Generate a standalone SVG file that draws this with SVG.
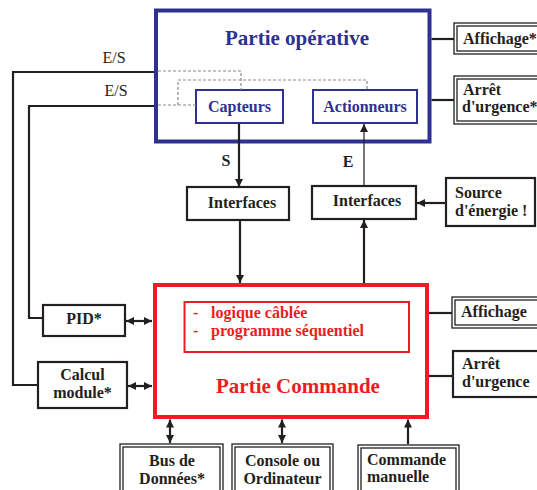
<svg xmlns="http://www.w3.org/2000/svg" width="537" height="490" viewBox="0 0 537 490">
<defs>
<style>
.t{font-family:"Liberation Serif","Times New Roman",serif;font-weight:bold;font-size:16px;fill:#231F20}
.tc{text-anchor:middle}
.reg{font-weight:normal;font-size:16px}
.blue{fill:#2E3192}
.red{fill:#ED1C24}
.box{fill:#fff;stroke:#231F20;stroke-width:2.2}
.dbo{fill:#fff;stroke:#231F20;stroke-width:1.3}
.dbi{fill:none;stroke:#231F20;stroke-width:1.3}
.ln{fill:none;stroke:#231F20;stroke-width:2.2}
.thin{fill:none;stroke:#231F20;stroke-width:1.2}
.dash{fill:none;stroke:#8a8a8a;stroke-width:1.2;stroke-dasharray:3 2}
</style>
<marker id="ah" viewBox="0 0 10 10" refX="10" refY="5" markerWidth="9" markerHeight="8" markerUnits="userSpaceOnUse" orient="auto-start-reverse">
<path d="M0,0 L10,5 L0,10 z" fill="#231F20"/>
</marker>
</defs>

<g id="partie-operative">
<rect x="156" y="10.5" width="273.5" height="131" fill="#fff" stroke="#2E3192" stroke-width="4"/>
<text class="t blue tc" x="297" y="45" style="font-size:21px">Partie opérative</text>
</g>
<g id="capteurs">
<rect x="196" y="90" width="87" height="33" fill="#fff" stroke="#2E3192" stroke-width="2"/>
<text class="t blue tc" x="239.5" y="111.5">Capteurs</text>
</g>
<g id="actionneurs">
<rect x="313" y="90" width="104" height="33" fill="#fff" stroke="#2E3192" stroke-width="2"/>
<text class="t blue tc" x="365" y="111.5">Actionneurs</text>
</g>

<g id="affichage-po">
<rect class="dbo" x="454" y="23" width="90" height="31"/>
<rect class="dbi" x="457" y="26" width="84" height="25"/>
<text class="t" x="463" y="44">Affichage*</text>
</g>
<g id="arret-po">
<rect class="dbo" x="454" y="76" width="90" height="48"/>
<rect class="dbi" x="457" y="79" width="84" height="42"/>
<text class="t" x="463" y="95">Arrêt</text>
<text class="t" x="462" y="112">d'urgence*</text>
</g>

<g id="interfaces-s">
<rect class="box" x="187" y="187" width="102" height="33"/>
<text class="t tc" x="242" y="208">Interfaces</text>
</g>
<g id="interfaces-e">
<rect class="box" x="312" y="186" width="104" height="33"/>
<text class="t tc" x="367" y="206">Interfaces</text>
</g>
<g id="source-energie">
<rect class="box" x="446" y="178" width="89" height="48"/>
<text class="t" x="455" y="198">Source</text>
<text class="t" x="455" y="216">d'énergie !</text>
</g>

<g id="partie-commande">
<rect x="155" y="285" width="272" height="132" fill="#fff" stroke="#ED1C24" stroke-width="4"/>
<rect x="184.5" y="302" width="224.5" height="50" fill="none" stroke="#ED1C24" stroke-width="2"/>
<text class="t red" x="193" y="318">-</text>
<text class="t red" x="211" y="318">logique câblée</text>
<text class="t red" x="193" y="336">-</text>
<text class="t red" x="211" y="336">programme séquentiel</text>
<text class="t red tc" x="298" y="393" style="font-size:21px">Partie Commande</text>
</g>

<g id="pid">
<rect class="box" x="43" y="305" width="82" height="31"/>
<text class="t tc" x="84" y="324">PID*</text>
</g>
<g id="calcul-module">
<rect class="box" x="38" y="362" width="89" height="46"/>
<text class="t tc" x="82.5" y="380">Calcul</text>
<text class="t tc" x="82.5" y="398">module*</text>
</g>

<g id="affichage-pc">
<rect class="dbo" x="452" y="297" width="92" height="31"/>
<rect class="dbi" x="455" y="300" width="86" height="25"/>
<text class="t" x="461" y="317">Affichage</text>
</g>
<g id="arret-pc">
<rect class="box" x="453" y="351" width="91" height="46"/>
<text class="t" x="462" y="369">Arrêt</text>
<text class="t" x="462" y="387">d'urgence</text>
</g>

<g id="bus-donnees">
<rect class="dbo" x="120" y="444" width="103" height="52"/>
<rect class="dbi" x="123" y="447" width="97" height="52"/>
<text class="t tc" x="172" y="466">Bus de</text>
<text class="t tc" x="172" y="484">Données*</text>
</g>
<g id="console">
<rect class="dbo" x="232" y="444" width="101" height="52"/>
<rect class="dbi" x="235" y="447" width="95" height="52"/>
<text class="t tc" x="282.5" y="466">Console ou</text>
<text class="t tc" x="282.5" y="484">Ordinateur</text>
</g>
<g id="commande-manuelle">
<rect class="dbo" x="358" y="445" width="101" height="52"/>
<rect class="dbi" x="361" y="448" width="95" height="52"/>
<text class="t" x="367" y="465">Commande</text>
<text class="t" x="367" y="482">manuelle</text>
</g>

<g id="connectors">
<path class="ln" d="M154,72 H13 V385 H38"/>
<path class="ln" d="M154,106 H29 V318 H43"/>
<path class="dash" d="M158,71 H241 V90"/>
<path class="dash" d="M158,105 H196"/>
<path class="dash" d="M178,105 V80 H367 V90"/>
<path class="ln" d="M239,124 V187" marker-end="url(#ah)"/>
<path class="ln" d="M240,221 V283" marker-end="url(#ah)"/>
<path class="thin" d="M364,185 V124" marker-end="url(#ah)"/>
<path class="ln" d="M364,283 V220" marker-end="url(#ah)"/>
<path class="ln" d="M445,203 H417" marker-end="url(#ah)"/>
<path class="ln" d="M431.5,39 H454"/>
<path class="ln" d="M431.5,100 H454"/>
<path class="ln" d="M429,313 H452"/>
<path class="ln" d="M429,376 H453"/>
<path class="ln" d="M126,321 H152" marker-start="url(#ah)" marker-end="url(#ah)"/>
<path class="ln" d="M128,386 H152" marker-start="url(#ah)" marker-end="url(#ah)"/>
<path class="ln" d="M170,419.5 V443" marker-start="url(#ah)" marker-end="url(#ah)"/>
<path class="ln" d="M282,419.5 V443" marker-start="url(#ah)" marker-end="url(#ah)"/>
<path class="ln" d="M408,444 V419.5" marker-end="url(#ah)"/>
<text class="t reg" x="114" y="63" text-anchor="middle">E/S</text>
<text class="t reg" x="116" y="96" text-anchor="middle">E/S</text>
<text class="t" x="226" y="166" text-anchor="middle">S</text>
<text class="t" x="348" y="167" text-anchor="middle">E</text>
</g>
</svg>
